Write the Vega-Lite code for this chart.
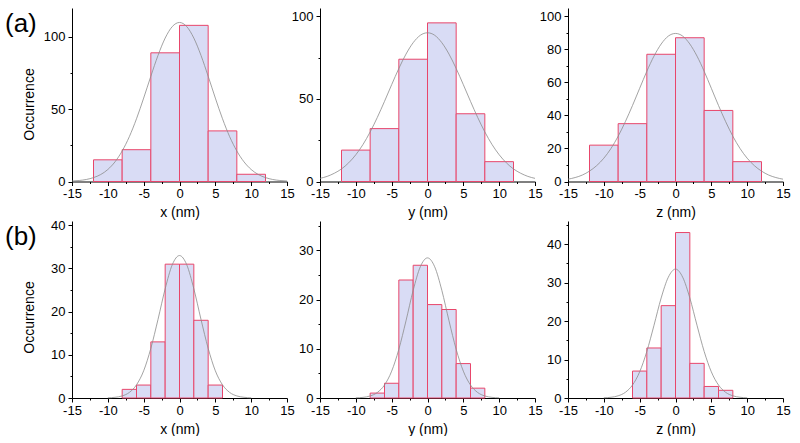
{
  "$schema": "https://vega.github.io/schema/vega-lite/v6.json",
  "padding": {"left": 5, "top": 8, "right": 0, "bottom": 0},
  "config": {
    "font": "Liberation Sans",
    "view": {"stroke": null},
    "axis": {"domainColor": "#000", "tickColor": "#000", "labelColor": "#000", "titleColor": "#000", "labelFont": "Liberation Sans", "titleFont": "Liberation Sans", "labelFontSize": 13, "titleFontSize": 14, "titleFontWeight": "normal", "grid": false, "labelFlush": false, "labelOverlap": false, "domainWidth": 1, "tickWidth": 1},
    "axisX": {"labelPadding": 2, "titlePadding": 5},
    "axisY": {"labelPadding": 3}
  },
  "datasets": {
    "bars": [
      {"p": "ax", "x": -12, "xe": -8, "y": 15}, {"p": "ax", "x": -8, "xe": -4, "y": 22}, {"p": "ax", "x": -4, "xe": 0, "y": 89}, {"p": "ax", "x": 0, "xe": 4, "y": 108}, {"p": "ax", "x": 4, "xe": 8, "y": 35}, {"p": "ax", "x": 8, "xe": 12, "y": 5},
      {"p": "ay", "x": -12, "xe": -8, "y": 19}, {"p": "ay", "x": -8, "xe": -4, "y": 32}, {"p": "ay", "x": -4, "xe": 0, "y": 74}, {"p": "ay", "x": 0, "xe": 4, "y": 96}, {"p": "ay", "x": 4, "xe": 8, "y": 41}, {"p": "ay", "x": 8, "xe": 12, "y": 12},
      {"p": "az", "x": -12, "xe": -8, "y": 22}, {"p": "az", "x": -8, "xe": -4, "y": 35}, {"p": "az", "x": -4, "xe": 0, "y": 77}, {"p": "az", "x": 0, "xe": 4, "y": 87}, {"p": "az", "x": 4, "xe": 8, "y": 43}, {"p": "az", "x": 8, "xe": 12, "y": 12},
      {"p": "bx", "x": -8, "xe": -6, "y": 2}, {"p": "bx", "x": -6, "xe": -4, "y": 3}, {"p": "bx", "x": -4, "xe": -2, "y": 13}, {"p": "bx", "x": -2, "xe": 0, "y": 31}, {"p": "bx", "x": 0, "xe": 2, "y": 31}, {"p": "bx", "x": 2, "xe": 4, "y": 18}, {"p": "bx", "x": 4, "xe": 6, "y": 3},
      {"p": "by", "x": -8, "xe": -6, "y": 1}, {"p": "by", "x": -6, "xe": -4, "y": 3}, {"p": "by", "x": -4, "xe": -2, "y": 24}, {"p": "by", "x": -2, "xe": 0, "y": 27}, {"p": "by", "x": 0, "xe": 2, "y": 19}, {"p": "by", "x": 2, "xe": 4, "y": 18}, {"p": "by", "x": 4, "xe": 6, "y": 7}, {"p": "by", "x": 6, "xe": 8, "y": 2},
      {"p": "bz", "x": -6, "xe": -4, "y": 7}, {"p": "bz", "x": -4, "xe": -2, "y": 13}, {"p": "bz", "x": -2, "xe": 0, "y": 24}, {"p": "bz", "x": 0, "xe": 2, "y": 43}, {"p": "bz", "x": 2, "xe": 4, "y": 9}, {"p": "bz", "x": 4, "xe": 6, "y": 3}, {"p": "bz", "x": 6, "xe": 8, "y": 2}
    ],
    "curves": [
      {"p": "ax", "x": -15, "y": 0.33}, {"p": "ax", "x": -14, "y": 0.7}, {"p": "ax", "x": -13, "y": 1.4}, {"p": "ax", "x": -12, "y": 2.7}, {"p": "ax", "x": -11, "y": 4.8}, {"p": "ax", "x": -10, "y": 8.3}, {"p": "ax", "x": -9, "y": 13.6}, {"p": "ax", "x": -8, "y": 21.1}, {"p": "ax", "x": -7, "y": 31.0}, {"p": "ax", "x": -6, "y": 43.4}, {"p": "ax", "x": -5, "y": 57.7}, {"p": "ax", "x": -4, "y": 72.8}, {"p": "ax", "x": -3, "y": 87.2}, {"p": "ax", "x": -2, "y": 99.2}, {"p": "ax", "x": -1, "y": 107.2}, {"p": "ax", "x": 0, "y": 110}, {"p": "ax", "x": 1, "y": 107.2}, {"p": "ax", "x": 2, "y": 99.2}, {"p": "ax", "x": 3, "y": 87.2}, {"p": "ax", "x": 4, "y": 72.8}, {"p": "ax", "x": 5, "y": 57.7}, {"p": "ax", "x": 6, "y": 43.4}, {"p": "ax", "x": 7, "y": 31.0}, {"p": "ax", "x": 8, "y": 21.1}, {"p": "ax", "x": 9, "y": 13.6}, {"p": "ax", "x": 10, "y": 8.3}, {"p": "ax", "x": 11, "y": 4.8}, {"p": "ax", "x": 12, "y": 2.7}, {"p": "ax", "x": 13, "y": 1.4}, {"p": "ax", "x": 14, "y": 0.7}, {"p": "ax", "x": 15, "y": 0.33},
      {"p": "ay", "x": -15, "y": 1.9}, {"p": "ay", "x": -14, "y": 3.1}, {"p": "ay", "x": -13, "y": 5.0}, {"p": "ay", "x": -12, "y": 7.6}, {"p": "ay", "x": -11, "y": 11.3}, {"p": "ay", "x": -10, "y": 16.2}, {"p": "ay", "x": -9, "y": 22.4}, {"p": "ay", "x": -8, "y": 30.0}, {"p": "ay", "x": -7, "y": 38.8}, {"p": "ay", "x": -6, "y": 48.5}, {"p": "ay", "x": -5, "y": 58.6}, {"p": "ay", "x": -4, "y": 68.4}, {"p": "ay", "x": -3, "y": 77.1}, {"p": "ay", "x": -2, "y": 84.0}, {"p": "ay", "x": -1, "y": 88.5}, {"p": "ay", "x": 0, "y": 90}, {"p": "ay", "x": 1, "y": 88.5}, {"p": "ay", "x": 2, "y": 84.0}, {"p": "ay", "x": 3, "y": 77.1}, {"p": "ay", "x": 4, "y": 68.4}, {"p": "ay", "x": 5, "y": 58.6}, {"p": "ay", "x": 6, "y": 48.5}, {"p": "ay", "x": 7, "y": 38.8}, {"p": "ay", "x": 8, "y": 30.0}, {"p": "ay", "x": 9, "y": 22.4}, {"p": "ay", "x": 10, "y": 16.2}, {"p": "ay", "x": 11, "y": 11.3}, {"p": "ay", "x": 12, "y": 7.6}, {"p": "ay", "x": 13, "y": 5.0}, {"p": "ay", "x": 14, "y": 3.1}, {"p": "ay", "x": 15, "y": 1.9},
      {"p": "az", "x": -15, "y": 1.4}, {"p": "az", "x": -14, "y": 2.4}, {"p": "az", "x": -13, "y": 3.9}, {"p": "az", "x": -12, "y": 6.3}, {"p": "az", "x": -11, "y": 9.6}, {"p": "az", "x": -10, "y": 14.1}, {"p": "az", "x": -9, "y": 20.0}, {"p": "az", "x": -8, "y": 27.4}, {"p": "az", "x": -7, "y": 36.2}, {"p": "az", "x": -6, "y": 46.0}, {"p": "az", "x": -5, "y": 56.4}, {"p": "az", "x": -4, "y": 66.7}, {"p": "az", "x": -3, "y": 75.9}, {"p": "az", "x": -2, "y": 83.2}, {"p": "az", "x": -1, "y": 88.0}, {"p": "az", "x": 0, "y": 89.6}, {"p": "az", "x": 1, "y": 88.0}, {"p": "az", "x": 2, "y": 83.2}, {"p": "az", "x": 3, "y": 75.9}, {"p": "az", "x": 4, "y": 66.7}, {"p": "az", "x": 5, "y": 56.4}, {"p": "az", "x": 6, "y": 46.0}, {"p": "az", "x": 7, "y": 36.2}, {"p": "az", "x": 8, "y": 27.4}, {"p": "az", "x": 9, "y": 20.0}, {"p": "az", "x": 10, "y": 14.1}, {"p": "az", "x": 11, "y": 9.6}, {"p": "az", "x": 12, "y": 6.3}, {"p": "az", "x": 13, "y": 3.9}, {"p": "az", "x": 14, "y": 2.4}, {"p": "az", "x": 15, "y": 1.4},
      {"p": "bx", "x": -10, "y": 0.04}, {"p": "bx", "x": -9, "y": 0.16}, {"p": "bx", "x": -8, "y": 0.48}, {"p": "bx", "x": -7, "y": 1.29}, {"p": "bx", "x": -6, "y": 3.05}, {"p": "bx", "x": -5, "y": 6.3}, {"p": "bx", "x": -4, "y": 11.5}, {"p": "bx", "x": -3, "y": 18.2}, {"p": "bx", "x": -2, "y": 25.3}, {"p": "bx", "x": -1, "y": 30.9}, {"p": "bx", "x": 0, "y": 33}, {"p": "bx", "x": 1, "y": 30.9}, {"p": "bx", "x": 2, "y": 25.3}, {"p": "bx", "x": 3, "y": 18.2}, {"p": "bx", "x": 4, "y": 11.5}, {"p": "bx", "x": 5, "y": 6.3}, {"p": "bx", "x": 6, "y": 3.05}, {"p": "bx", "x": 7, "y": 1.29}, {"p": "bx", "x": 8, "y": 0.48}, {"p": "bx", "x": 9, "y": 0.16}, {"p": "bx", "x": 10, "y": 0.04},
      {"p": "by", "x": -10, "y": 0.04}, {"p": "by", "x": -9, "y": 0.13}, {"p": "by", "x": -8, "y": 0.41}, {"p": "by", "x": -7, "y": 1.12}, {"p": "by", "x": -6, "y": 2.64}, {"p": "by", "x": -5, "y": 5.46}, {"p": "by", "x": -4, "y": 9.9}, {"p": "by", "x": -3, "y": 15.7}, {"p": "by", "x": -2, "y": 21.9}, {"p": "by", "x": -1, "y": 26.7}, {"p": "by", "x": 0, "y": 28.5}, {"p": "by", "x": 1, "y": 26.7}, {"p": "by", "x": 2, "y": 21.9}, {"p": "by", "x": 3, "y": 15.7}, {"p": "by", "x": 4, "y": 9.9}, {"p": "by", "x": 5, "y": 5.46}, {"p": "by", "x": 6, "y": 2.64}, {"p": "by", "x": 7, "y": 1.12}, {"p": "by", "x": 8, "y": 0.41}, {"p": "by", "x": 9, "y": 0.13}, {"p": "by", "x": 10, "y": 0.04},
      {"p": "bz", "x": -10, "y": 0.06}, {"p": "bz", "x": -9, "y": 0.19}, {"p": "bz", "x": -8, "y": 0.57}, {"p": "bz", "x": -7, "y": 1.47}, {"p": "bz", "x": -6, "y": 3.37}, {"p": "bz", "x": -5, "y": 6.8}, {"p": "bz", "x": -4, "y": 12.1}, {"p": "bz", "x": -3, "y": 18.9}, {"p": "bz", "x": -2, "y": 26.0}, {"p": "bz", "x": -1, "y": 31.4}, {"p": "bz", "x": 0, "y": 33.5}, {"p": "bz", "x": 1, "y": 31.4}, {"p": "bz", "x": 2, "y": 26.0}, {"p": "bz", "x": 3, "y": 18.9}, {"p": "bz", "x": 4, "y": 12.1}, {"p": "bz", "x": 5, "y": 6.8}, {"p": "bz", "x": 6, "y": 3.37}, {"p": "bz", "x": 7, "y": 1.47}, {"p": "bz", "x": 8, "y": 0.57}, {"p": "bz", "x": 9, "y": 0.19}, {"p": "bz", "x": 10, "y": 0.06}
    ]
  },
  "bounds": "flush",
  "columns": 3,
  "spacing": {"row": 39, "column": 33},
  "concat": [
    {
      "width": 215, "height": 173.5,
      "title": {"text": "(a)", "orient": "top", "anchor": "start", "frame": "group", "fontSize": 26, "fontWeight": "normal", "font": "Liberation Sans", "color": "#000", "offset": 0, "dx": -67, "dy": 50, "baseline": "alphabetic", "align": "left"},
      "encoding": {
        "x": {"field": "x", "type": "quantitative", "scale": {"domain": [-15, 15], "nice": false}, "axis": {"title": "x (nm)", "values": [-15, -12.5, -10, -7.5, -5, -2.5, 0, 2.5, 5, 7.5, 10, 12.5, 15], "labelExpr": "datum.value % 5 === 0 ? '' + datum.value : ''", "tickSize": {"condition": {"test": "datum.value % 5 === 0", "value": 4}, "value": 2}}},
        "y": {"field": "y", "type": "quantitative", "scale": {"domain": [0, 120], "nice": false}, "axis": {"title": "Occurrence", "values": [0, 25, 50, 75, 100], "labelExpr": "datum.value % 50 === 0 ? '' + datum.value : ''", "tickSize": {"condition": {"test": "datum.value % 50 === 0", "value": 4}, "value": 2}, "minExtent": 28, "maxExtent": 28, "titlePadding": 8, "titleY": 96}}
      },
      "layer": [
        {"data": {"name": "bars"}, "transform": [{"filter": "datum.p === 'ax'"}], "mark": {"type": "rect", "fill": "#d9dcf5", "stroke": "#e8466b", "strokeWidth": 1}, "encoding": {"x2": {"field": "xe"}, "y2": {"datum": 0}}},
        {"data": {"name": "curves"}, "transform": [{"filter": "datum.p === 'ax'"}], "mark": {"type": "line", "stroke": "#8c8c8c", "strokeWidth": 0.8, "interpolate": "monotone"}, "encoding": {}}
      ]
    },
    {
      "width": 215, "height": 173.5,
      "encoding": {
        "x": {"field": "x", "type": "quantitative", "scale": {"domain": [-15, 15], "nice": false}, "axis": {"title": "y (nm)", "values": [-15, -12.5, -10, -7.5, -5, -2.5, 0, 2.5, 5, 7.5, 10, 12.5, 15], "labelExpr": "datum.value % 5 === 0 ? '' + datum.value : ''", "tickSize": {"condition": {"test": "datum.value % 5 === 0", "value": 4}, "value": 2}}},
        "y": {"field": "y", "type": "quantitative", "scale": {"domain": [0, 105], "nice": false}, "axis": {"title": null, "values": [0, 25, 50, 75, 100], "labelExpr": "datum.value % 50 === 0 ? '' + datum.value : ''", "tickSize": {"condition": {"test": "datum.value % 50 === 0", "value": 4}, "value": 2}}}
      },
      "layer": [
        {"data": {"name": "bars"}, "transform": [{"filter": "datum.p === 'ay'"}], "mark": {"type": "rect", "fill": "#d9dcf5", "stroke": "#e8466b", "strokeWidth": 1}, "encoding": {"x2": {"field": "xe"}, "y2": {"datum": 0}}},
        {"data": {"name": "curves"}, "transform": [{"filter": "datum.p === 'ay'"}], "mark": {"type": "line", "stroke": "#8c8c8c", "strokeWidth": 0.8, "interpolate": "monotone"}, "encoding": {}}
      ]
    },
    {
      "width": 215, "height": 173.5,
      "encoding": {
        "x": {"field": "x", "type": "quantitative", "scale": {"domain": [-15, 15], "nice": false}, "axis": {"title": "z (nm)", "values": [-15, -12.5, -10, -7.5, -5, -2.5, 0, 2.5, 5, 7.5, 10, 12.5, 15], "labelExpr": "datum.value % 5 === 0 ? '' + datum.value : ''", "tickSize": {"condition": {"test": "datum.value % 5 === 0", "value": 4}, "value": 2}}},
        "y": {"field": "y", "type": "quantitative", "scale": {"domain": [0, 105], "nice": false}, "axis": {"title": null, "values": [0, 10, 20, 30, 40, 50, 60, 70, 80, 90, 100], "labelExpr": "datum.value % 20 === 0 ? '' + datum.value : ''", "tickSize": {"condition": {"test": "datum.value % 20 === 0", "value": 4}, "value": 2}}}
      },
      "layer": [
        {"data": {"name": "bars"}, "transform": [{"filter": "datum.p === 'az'"}], "mark": {"type": "rect", "fill": "#d9dcf5", "stroke": "#e8466b", "strokeWidth": 1}, "encoding": {"x2": {"field": "xe"}, "y2": {"datum": 0}}},
        {"data": {"name": "curves"}, "transform": [{"filter": "datum.p === 'az'"}], "mark": {"type": "line", "stroke": "#8c8c8c", "strokeWidth": 0.8, "interpolate": "monotone"}, "encoding": {}}
      ]
    },
    {
      "width": 215, "height": 177,
      "title": {"text": "(b)", "orient": "top", "anchor": "start", "frame": "group", "fontSize": 26, "fontWeight": "normal", "font": "Liberation Sans", "color": "#000", "offset": 0, "dx": -67, "dy": 52, "baseline": "alphabetic", "align": "left"},
      "encoding": {
        "x": {"field": "x", "type": "quantitative", "scale": {"domain": [-15, 15], "nice": false}, "axis": {"title": "x (nm)", "values": [-15, -12.5, -10, -7.5, -5, -2.5, 0, 2.5, 5, 7.5, 10, 12.5, 15], "labelExpr": "datum.value % 5 === 0 ? '' + datum.value : ''", "tickSize": {"condition": {"test": "datum.value % 5 === 0", "value": 4}, "value": 2}}},
        "y": {"field": "y", "type": "quantitative", "scale": {"domain": [0, 41], "nice": false}, "axis": {"title": "Occurrence", "values": [0, 5, 10, 15, 20, 25, 30, 35, 40], "labelExpr": "datum.value % 10 === 0 ? '' + datum.value : ''", "tickSize": {"condition": {"test": "datum.value % 10 === 0", "value": 4}, "value": 2}, "minExtent": 28, "maxExtent": 28, "titlePadding": 8, "titleY": 96}}
      },
      "layer": [
        {"data": {"name": "bars"}, "transform": [{"filter": "datum.p === 'bx'"}], "mark": {"type": "rect", "fill": "#d9dcf5", "stroke": "#e8466b", "strokeWidth": 1}, "encoding": {"x2": {"field": "xe"}, "y2": {"datum": 0}}},
        {"data": {"name": "curves"}, "transform": [{"filter": "datum.p === 'bx'"}], "mark": {"type": "line", "stroke": "#8c8c8c", "strokeWidth": 0.8, "interpolate": "monotone"}, "encoding": {}}
      ]
    },
    {
      "width": 215, "height": 177,
      "encoding": {
        "x": {"field": "x", "type": "quantitative", "scale": {"domain": [-15, 15], "nice": false}, "axis": {"title": "y (nm)", "values": [-15, -12.5, -10, -7.5, -5, -2.5, 0, 2.5, 5, 7.5, 10, 12.5, 15], "labelExpr": "datum.value % 5 === 0 ? '' + datum.value : ''", "tickSize": {"condition": {"test": "datum.value % 5 === 0", "value": 4}, "value": 2}}},
        "y": {"field": "y", "type": "quantitative", "scale": {"domain": [0, 36], "nice": false}, "axis": {"title": null, "values": [0, 5, 10, 15, 20, 25, 30, 35], "labelExpr": "datum.value % 10 === 0 ? '' + datum.value : ''", "tickSize": {"condition": {"test": "datum.value % 10 === 0", "value": 4}, "value": 2}}}
      },
      "layer": [
        {"data": {"name": "bars"}, "transform": [{"filter": "datum.p === 'by'"}], "mark": {"type": "rect", "fill": "#d9dcf5", "stroke": "#e8466b", "strokeWidth": 1}, "encoding": {"x2": {"field": "xe"}, "y2": {"datum": 0}}},
        {"data": {"name": "curves"}, "transform": [{"filter": "datum.p === 'by'"}], "mark": {"type": "line", "stroke": "#8c8c8c", "strokeWidth": 0.8, "interpolate": "monotone"}, "encoding": {}}
      ]
    },
    {
      "width": 215, "height": 177,
      "encoding": {
        "x": {"field": "x", "type": "quantitative", "scale": {"domain": [-15, 15], "nice": false}, "axis": {"title": "z (nm)", "values": [-15, -12.5, -10, -7.5, -5, -2.5, 0, 2.5, 5, 7.5, 10, 12.5, 15], "labelExpr": "datum.value % 5 === 0 ? '' + datum.value : ''", "tickSize": {"condition": {"test": "datum.value % 5 === 0", "value": 4}, "value": 2}}},
        "y": {"field": "y", "type": "quantitative", "scale": {"domain": [0, 46], "nice": false}, "axis": {"title": null, "values": [0, 5, 10, 15, 20, 25, 30, 35, 40, 45], "labelExpr": "datum.value % 10 === 0 ? '' + datum.value : ''", "tickSize": {"condition": {"test": "datum.value % 10 === 0", "value": 4}, "value": 2}}}
      },
      "layer": [
        {"data": {"name": "bars"}, "transform": [{"filter": "datum.p === 'bz'"}], "mark": {"type": "rect", "fill": "#d9dcf5", "stroke": "#e8466b", "strokeWidth": 1}, "encoding": {"x2": {"field": "xe"}, "y2": {"datum": 0}}},
        {"data": {"name": "curves"}, "transform": [{"filter": "datum.p === 'bz'"}], "mark": {"type": "line", "stroke": "#8c8c8c", "strokeWidth": 0.8, "interpolate": "monotone"}, "encoding": {}}
      ]
    }
  ]
}
